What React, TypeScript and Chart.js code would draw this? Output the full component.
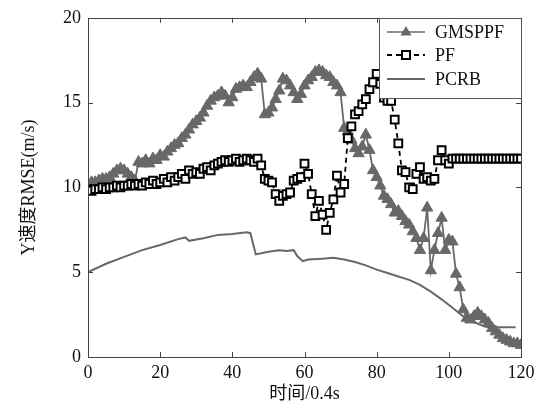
import React, { useEffect, useRef } from 'react';
import { Chart, registerables } from 'chart.js';

Chart.register(...registerables);

// time step index 0..120 (x axis: 时间/0.4s)
const gmsppf = [
  10.2, 10.3, 10.3, 10.4, 10.5, 10.5, 10.6, 10.8, 11.0, 11.1,
  11.0, 10.8, 10.6, 10.4, 11.5, 11.4, 11.6, 11.4, 11.7, 11.6,
  11.9, 11.8, 12.1, 12.3, 12.5, 12.6, 12.9, 13.1, 13.4, 13.7,
  13.9, 14.1, 14.4, 14.8, 15.1, 15.3, 15.4, 15.6, 15.4, 15.0,
  15.3, 15.8, 15.9, 16.0, 15.9, 16.2, 16.5, 16.7, 16.4, 14.3,
  14.4, 14.7, 15.2, 15.7, 16.4, 16.3, 16.0, 15.6, 15.2, 15.5,
  16.0, 16.3, 16.5, 16.8, 16.9, 16.8, 16.6, 16.5, 16.2, 16.0,
  15.6, 13.5, 13.3, 12.8, 12.3, 12.0, 12.4, 13.1, 12.2, 11.0,
  10.6, 10.1, 9.5, 9.3, 9.0, 8.5, 8.6, 8.3, 8.0, 7.8,
  7.4, 7.0, 6.3, 7.0, 8.8, 5.1, 6.3, 7.3, 8.2, 6.3,
  6.9, 6.8, 4.9, 4.1, 2.8, 2.3, 2.2, 2.4, 2.6, 2.4,
  2.2, 2.0, 1.7, 1.5, 1.3, 1.1, 1.0, 0.9, 0.8, 0.8,
  0.7,
];

const pf = [
  9.9, 9.8, 9.9, 9.9, 10.0, 9.9, 10.0, 10.0, 10.1, 10.0,
  10.1, 10.1, 10.2, 10.1, 10.2, 10.1, 10.3, 10.2, 10.4, 10.2,
  10.3, 10.5, 10.3, 10.6, 10.4, 10.6, 10.8, 10.5, 11.0, 10.8,
  10.9, 10.8, 11.1, 11.2, 11.0, 11.3, 11.4, 11.5, 11.6, 11.5,
  11.6, 11.7, 11.5, 11.6, 11.7, 11.6, 11.5, 11.7, 11.3, 10.5,
  10.4, 10.3, 9.6, 9.2, 9.5, 9.6, 9.7, 10.4, 10.5, 10.6,
  11.4, 10.8, 9.6, 8.3, 9.2, 8.4, 7.5, 8.5, 9.3, 10.7,
  9.7, 10.2, 12.9, 13.6, 14.3, 14.5, 14.9, 15.2, 15.8, 16.2,
  16.7, 16.1, 15.3, 15.1, 15.1, 14.0, 12.6, 11.0, 10.9, 10.0,
  9.9, 10.8, 11.2, 10.5, 10.6, 10.4, 10.5, 11.6, 12.2, 11.6,
  11.4, 11.7, 11.7, 11.7, 11.7, 11.7, 11.7, 11.7, 11.7, 11.7,
  11.7, 11.7, 11.7, 11.7, 11.7, 11.7, 11.7, 11.7, 11.7, 11.7,
  11.7,
];

const pcrbX = [0, 5, 10, 15, 20, 25, 27, 28, 32, 36, 40, 44, 45, 46.5, 50, 53, 55, 57, 58, 59.5, 61, 65, 68, 71, 74, 77, 80, 83, 86, 89, 92, 95, 98, 101, 104, 107, 110, 111, 118.5];
const pcrbY = [5.0, 5.5, 5.9, 6.3, 6.6, 6.95, 7.05, 6.85, 7.0, 7.2, 7.25, 7.35, 7.3, 6.05, 6.2, 6.3, 6.25, 6.3, 5.95, 5.65, 5.75, 5.8, 5.85, 5.75, 5.6, 5.4, 5.15, 4.95, 4.75, 4.55, 4.25, 3.85, 3.4, 2.9, 2.4, 2.05, 1.8, 1.75, 1.75];

const xTicks = [0, 20, 40, 60, 80, 100, 120];
const yTicks = [0, 5, 10, 15, 20];
const seriesNames = ['GMSPPF', 'PF', 'PCRB'];

const GRAY = '#686868';
const FONT = "'Liberation Serif', 'Noto Sans CJK SC', serif";

const framePlugin = {
  id: 'frame',
  afterDraw(chart: any) {
    const { ctx, chartArea: a, scales } = chart;
    ctx.save();
    ctx.strokeStyle = '#444';
    ctx.lineWidth = 1;
    ctx.strokeRect(Math.round(a.left) + 0.5, Math.round(a.top) + 0.5, Math.round(a.width), Math.round(a.height));
    const tl = 5;
    xTicks.forEach((v) => {
      const px = Math.round(scales.x.getPixelForValue(v)) + 0.5;
      ctx.beginPath();
      ctx.moveTo(px, a.bottom); ctx.lineTo(px, a.bottom - tl);
      ctx.moveTo(px, a.top); ctx.lineTo(px, a.top + tl);
      ctx.stroke();
    });
    yTicks.forEach((v) => {
      const py = Math.round(scales.y.getPixelForValue(v)) + 0.5;
      ctx.beginPath();
      ctx.moveTo(a.left, py); ctx.lineTo(a.left + tl, py);
      ctx.moveTo(a.right, py); ctx.lineTo(a.right - tl, py);
      ctx.stroke();
    });

    // axis titles
    ctx.fillStyle = '#111';
    ctx.font = `18px ${FONT}`;
    ctx.textAlign = 'center';
    ctx.textBaseline = 'middle';
    ctx.fillText('时间/0.4s', (a.left + a.right) / 2, 394);
    ctx.save();
    ctx.translate(29, (a.top + a.bottom) / 2);
    ctx.rotate(-Math.PI / 2);
    ctx.fillText('Y速度RMSE(m/s)', 0, 0);
    ctx.restore();

    // legend
    const bx = 379, by = 18, bw = a.right - 379, bh = 80;
    ctx.fillStyle = '#fff';
    ctx.fillRect(bx, by, bw, bh);
    ctx.strokeStyle = '#555';
    ctx.lineWidth = 1;
    ctx.strokeRect(bx + 0.5, by + 0.5, bw, bh);
    const rows = [32, 55, 79];
    const x0 = 387, x1 = 425, xm = 406;
    // GMSPPF
    ctx.strokeStyle = GRAY; ctx.lineWidth = 1.5; ctx.setLineDash([]);
    ctx.beginPath(); ctx.moveTo(x0, rows[0]); ctx.lineTo(x1, rows[0]); ctx.stroke();
    ctx.fillStyle = GRAY;
    ctx.beginPath();
    ctx.moveTo(xm, rows[0] - 6); ctx.lineTo(xm + 5.5, rows[0] + 3.5); ctx.lineTo(xm - 5.5, rows[0] + 3.5); ctx.closePath();
    ctx.fill();
    // PF
    ctx.strokeStyle = '#000'; ctx.lineWidth = 1.8; ctx.setLineDash([5, 4]);
    ctx.beginPath(); ctx.moveTo(x0, rows[1]); ctx.lineTo(x1, rows[1]); ctx.stroke();
    ctx.setLineDash([]);
    ctx.fillStyle = '#fff';
    ctx.fillRect(xm - 4, rows[1] - 4, 8, 8);
    ctx.lineWidth = 2;
    ctx.strokeRect(xm - 4, rows[1] - 4, 8, 8);
    // PCRB
    ctx.strokeStyle = GRAY; ctx.lineWidth = 2;
    ctx.beginPath(); ctx.moveTo(x0, rows[2]); ctx.lineTo(x1, rows[2]); ctx.stroke();
    ctx.fillStyle = '#111';
    ctx.font = `18px ${FONT}`;
    ctx.textAlign = 'left';
    seriesNames.forEach((n, i) => ctx.fillText(n, 435, rows[i] + 1));
    ctx.restore();
  },
};

export default function App() {
  const ref = useRef<HTMLCanvasElement>(null);
  useEffect(() => {
    document.body.style.margin = '0';
    const chart = new Chart(ref.current!, {
      type: 'line',
      data: {
        datasets: [
          {
            label: seriesNames[0],
            data: gmsppf.map((v, i) => ({ x: i, y: v })),
            borderColor: GRAY,
            backgroundColor: GRAY,
            borderWidth: 1.8,
            pointStyle: 'triangle',
            pointRadius: 6.5,
            pointBorderWidth: 1,
            pointBorderColor: GRAY,
            pointBackgroundColor: GRAY,
            order: 2,
          },
          {
            label: seriesNames[1],
            data: pf.map((v, i) => ({ x: i, y: v })),
            borderColor: '#000',
            borderWidth: 1.8,
            borderDash: [5, 4],
            pointStyle: 'rect',
            pointRadius: 5.5,
            pointBorderWidth: 2,
            pointBorderColor: '#000',
            pointBackgroundColor: '#fff',
            order: 1,
          },
          {
            label: seriesNames[2],
            data: pcrbX.map((x, i) => ({ x, y: pcrbY[i] })),
            borderColor: GRAY,
            borderWidth: 2,
            pointRadius: 0,
            order: 3,
          },
        ],
      },
      options: {
        responsive: false,
        animation: false,
        devicePixelRatio: 1,
        layout: { padding: { top: 17, right: 30, left: 0, bottom: 0 } },
        plugins: { legend: { display: false }, tooltip: { enabled: false } },
        elements: { line: { tension: 0 } },
        scales: {
          x: {
            type: 'linear',
            min: 0,
            max: 120,
            afterBuildTicks: (s: any) => { s.ticks = xTicks.map((v) => ({ value: v })); },
            afterFit: (s: any) => { s.height = 48; },
            grid: { display: false, drawTicks: false },
            border: { display: false },
            ticks: { color: '#111', font: { family: FONT, size: 18 }, padding: 5, maxRotation: 0 },
          },
          y: {
            type: 'linear',
            min: 0,
            max: 20,
            afterBuildTicks: (s: any) => { s.ticks = yTicks.map((v) => ({ value: v })); },
            afterFit: (s: any) => { s.width = 88; },
            grid: { display: false, drawTicks: false },
            border: { display: false },
            ticks: { color: '#111', font: { family: FONT, size: 18 }, padding: 7 },
          },
        },
      },
      plugins: [framePlugin],
    });
    return () => chart.destroy();
  }, []);
  return (
    <div style={{ position: 'absolute', left: 0, top: 0, width: 551, height: 405, background: '#fff' }}>
      <canvas ref={ref} width={551} height={405} />
    </div>
  );
}
